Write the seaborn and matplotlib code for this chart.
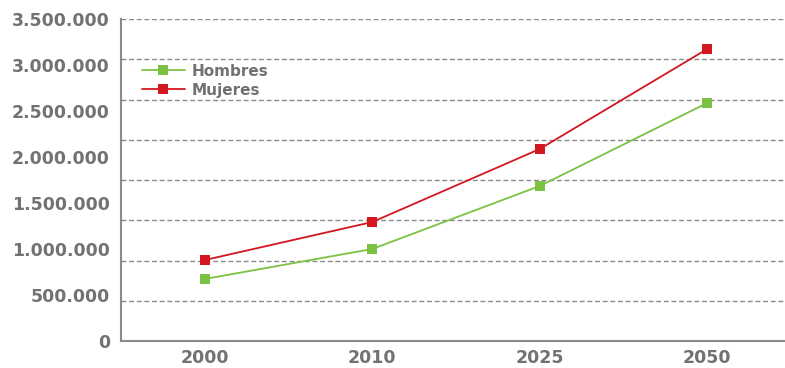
import matplotlib
matplotlib.use("Agg")
import matplotlib.pyplot as plt
import matplotlib.ticker as mticker
import seaborn as sns
import pandas as pd

years = ["2000", "2010", "2025", "2050"]
hombres = [674000, 1000000, 1685000, 2587000]
mujeres = [880000, 1293000, 2087000, 3174000]
series_names = ["Hombres", "Mujeres"]
y_ticks = [0, 500000, 1000000, 1500000, 2000000, 2500000, 3000000, 3500000]

df = pd.DataFrame({
    "year": years * 2,
    "value": hombres + mujeres,
    "serie": [series_names[0]] * 4 + [series_names[1]] * 4,
})

sns.set_style("white")
plt.rcParams["font.family"] = ["DejaVu Sans"]

grey = "#727272"
palette = {"Hombres": "#7cc242", "Mujeres": "#d3161f"}

fig = plt.figure(figsize=(7.85, 3.68), dpi=100)
ax = fig.add_axes([121 / 785, 27 / 368, 670 / 785, 322 / 368])

sns.lineplot(data=df, x="year", y="value", hue="serie", palette=palette,
             marker="s", markersize=7, markeredgewidth=0, linewidth=1.3,
             sort=False, ax=ax)

ax.set_xlim(-0.5, 3.5)
ax.set_ylim(0, 3500000)

# labelled ticks every 500.000
ax.yaxis.set_major_locator(mticker.FixedLocator(y_ticks))
ax.yaxis.set_major_formatter(mticker.FuncFormatter(lambda v, p: f"{int(v):,}".replace(",", ".")))
# gridlines dividing the axis in 8 equal bands
ax.yaxis.remove_overlapping_locs = False
ax.yaxis.set_minor_locator(mticker.FixedLocator([3500000 * k / 8 for k in range(1, 9)]))
ax.grid(False)
ax.grid(True, which="minor", axis="y", linestyle=(0, (3.5, 2)), color="#8a8a8a", linewidth=1.0)
ax.tick_params(axis="y", which="major", length=0, pad=8, labelsize=12.5, labelcolor=grey)
ax.tick_params(axis="y", which="minor", length=3, color="#8a8a8a", width=1)
for t in ax.get_yticklabels():
    t.set_fontweight("bold")

# x axis: category labels, tick marks between categories
ax.set_xticks([0, 1, 2, 3])
ax.set_xticklabels(years)
ax.tick_params(axis="x", which="major", length=0, pad=6, labelsize=12.5, labelcolor=grey)
ax.xaxis.set_minor_locator(mticker.FixedLocator([0.5, 1.5, 2.5]))
ax.tick_params(axis="x", which="minor", direction="in", length=8, color="#8a8a8a", width=1)
for t in ax.get_xticklabels():
    t.set_fontweight("bold")

ax.set_xlabel("")
ax.set_ylabel("")
for s in ["top", "right"]:
    ax.spines[s].set_visible(False)
for s in ["left", "bottom"]:
    ax.spines[s].set_color("#8a8a8a")
    ax.spines[s].set_linewidth(1.5)

leg = ax.legend(loc="upper left", bbox_to_anchor=(0.022, 0.88), frameon=False,
                fontsize=11, handlelength=2.8, handletextpad=0.45, labelspacing=0.25,
                borderaxespad=0)
for t in leg.get_texts():
    t.set_color(grey)
    t.set_fontweight("bold")

fig.savefig("out.png", dpi=100)
